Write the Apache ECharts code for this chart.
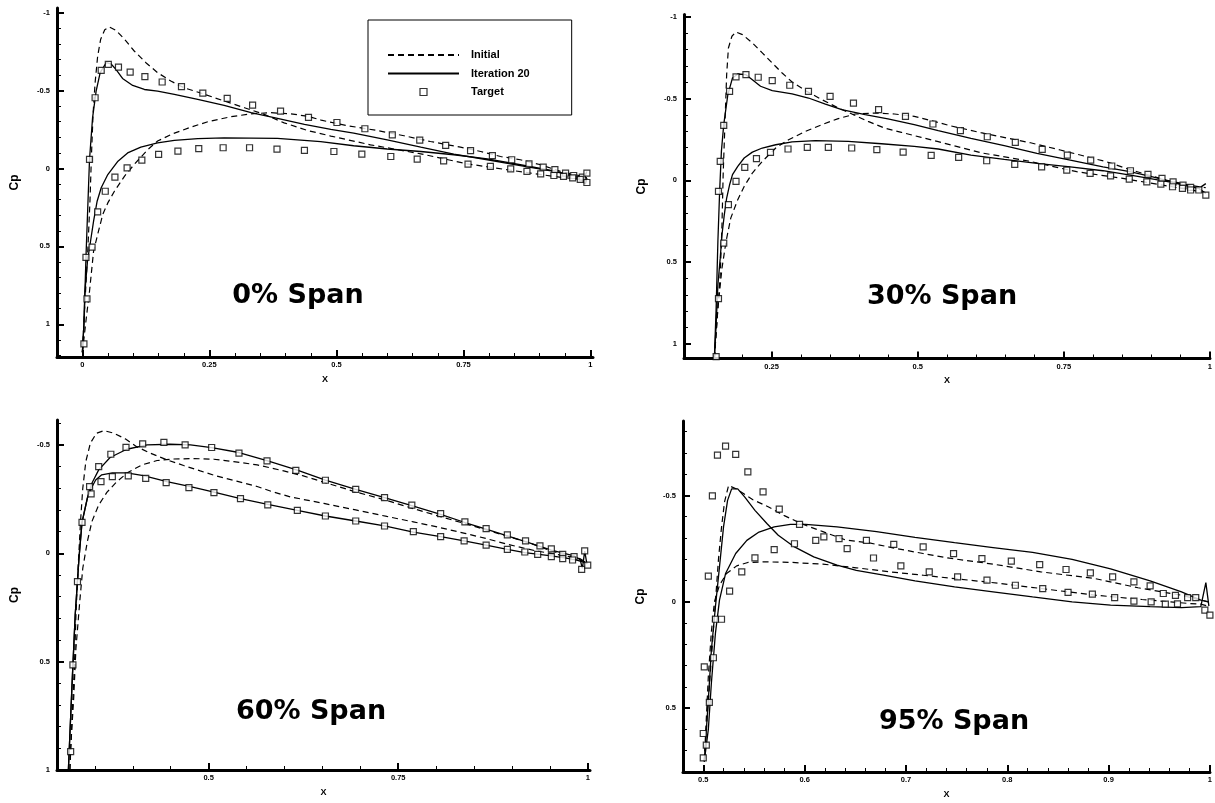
<!DOCTYPE html>
<html>
<head>
<meta charset="utf-8">
<title>Cp distributions</title>
<script src="https://cdn.jsdelivr.net/npm/echarts@6/dist/echarts.min.js"></script>
<style>
    html, body { margin: 0; padding: 0; background: #fff; }
    #cp-chart { width: 1215px; height: 803px; }
</style>
</head>
<body>
<div id="cp-chart"></div>
<script>
    // ---- 0% span ----
    var p1InitialUpper = [[0.0,1.18],[0.006,0.8],[0.011,0.5],[0.015,0.2],[0.018,-0.1],[0.021,-0.35],[0.025,-0.55],[0.03,-0.72],[0.036,-0.83],[0.044,-0.89],[0.053,-0.908],[0.066,-0.887],[0.083,-0.829],[0.102,-0.754],[0.125,-0.679],[0.148,-0.615],[0.174,-0.561],[0.2,-0.518],[0.237,-0.48],[0.279,-0.433],[0.319,-0.39],[0.358,-0.347],[0.397,-0.293],[0.443,-0.244],[0.489,-0.208],[0.567,-0.152],[0.666,-0.094],[0.757,-0.03],[0.836,0.008],[0.928,0.051],[0.98,0.07],[0.993,0.08]];
    var p1InitialLower = [[0.0,1.18],[0.008,0.95],[0.014,0.788],[0.022,0.531],[0.03,0.424],[0.04,0.296],[0.05,0.221],[0.063,0.146],[0.083,0.049],[0.102,-0.026],[0.129,-0.122],[0.148,-0.176],[0.178,-0.223],[0.214,-0.266],[0.247,-0.3],[0.292,-0.332],[0.332,-0.351],[0.371,-0.358],[0.41,-0.351],[0.445,-0.334],[0.47,-0.31],[0.521,-0.275],[0.58,-0.244],[0.633,-0.21],[0.685,-0.173],[0.744,-0.137],[0.784,-0.109],[0.823,-0.077],[0.862,-0.056],[0.902,-0.024],[0.941,0.019],[0.98,0.047],[0.993,0.06]];
    var p1IterUpper = [[0.0,1.18],[0.003,1.0],[0.005,0.788],[0.007,0.57],[0.01,0.3],[0.014,-0.058],[0.02,-0.325],[0.027,-0.497],[0.035,-0.615],[0.047,-0.679],[0.056,-0.672],[0.066,-0.636],[0.079,-0.578],[0.099,-0.533],[0.122,-0.507],[0.148,-0.497],[0.181,-0.475],[0.227,-0.443],[0.279,-0.405],[0.332,-0.358],[0.384,-0.322],[0.437,-0.283],[0.489,-0.251],[0.534,-0.227],[0.6,-0.184],[0.666,-0.137],[0.731,-0.092],[0.797,-0.056],[0.862,-0.019],[0.928,0.019],[0.974,0.051],[0.988,0.06],[0.993,0.02]];
    var p1IterLower = [[0.0,1.18],[0.003,1.002],[0.005,0.788],[0.01,0.595],[0.016,0.467],[0.022,0.338],[0.029,0.21],[0.037,0.124],[0.05,0.039],[0.07,-0.047],[0.089,-0.1],[0.115,-0.137],[0.148,-0.165],[0.181,-0.18],[0.227,-0.191],[0.279,-0.197],[0.384,-0.193],[0.469,-0.173],[0.534,-0.146],[0.6,-0.125],[0.666,-0.109],[0.731,-0.088],[0.797,-0.062],[0.862,-0.024],[0.928,0.015],[0.98,0.062],[0.99,0.1],[0.993,0.06]];
    var p1Target = [[0.003,1.126],[0.009,0.837],[0.007,0.57],[0.014,-0.058],[0.025,-0.454],[0.037,-0.63],[0.051,-0.668],[0.071,-0.651],[0.094,-0.619],[0.123,-0.589],[0.157,-0.555],[0.195,-0.525],[0.237,-0.484],[0.285,-0.45],[0.335,-0.407],[0.39,-0.368],[0.445,-0.328],[0.501,-0.295],[0.556,-0.255],[0.61,-0.216],[0.664,-0.182],[0.715,-0.148],[0.764,-0.114],[0.807,-0.082],[0.845,-0.056],[0.879,-0.03],[0.907,-0.009],[0.93,0.008],[0.951,0.03],[0.967,0.045],[0.984,0.055],[0.993,0.03],
        [0.019,0.505],[0.03,0.278],[0.045,0.146],[0.064,0.056],[0.088,-0.004],[0.117,-0.054],[0.15,-0.09],[0.188,-0.111],[0.229,-0.128],[0.277,-0.133],[0.329,-0.133],[0.383,-0.124],[0.437,-0.116],[0.495,-0.109],[0.55,-0.092],[0.607,-0.077],[0.659,-0.06],[0.711,-0.049],[0.759,-0.028],[0.803,-0.013],[0.843,0.002],[0.875,0.019],[0.902,0.034],[0.928,0.045],[0.947,0.051],[0.965,0.06],[0.98,0.07],[0.993,0.09]];
    var p1XTicks = [0, 0.25, 0.5, 0.75, 1];
    var p1YTicks = [-1, -0.5, 0, 0.5, 1];

    // ---- 30% span ----
    var p2InitialUpper = [[0.152,1.088],[0.162,0.578],[0.165,0.271],[0.167,-0.035],[0.17,-0.341],[0.173,-0.647],[0.176,-0.81],[0.182,-0.882],[0.189,-0.908],[0.2,-0.892],[0.217,-0.841],[0.234,-0.78],[0.251,-0.718],[0.268,-0.657],[0.285,-0.602],[0.308,-0.549],[0.336,-0.494],[0.364,-0.443],[0.39,-0.402],[0.415,-0.361],[0.443,-0.32],[0.472,-0.294],[0.506,-0.263],[0.535,-0.237],[0.608,-0.169],[0.687,-0.12],[0.772,-0.053],[0.851,-0.012],[0.919,0.029],[0.976,0.064],[0.993,0.075]];
    var p2InitialLower = [[0.152,1.088],[0.158,0.782],[0.165,0.537],[0.172,0.373],[0.18,0.231],[0.192,0.118],[0.203,0.037],[0.217,-0.045],[0.234,-0.116],[0.257,-0.198],[0.279,-0.249],[0.308,-0.3],[0.336,-0.341],[0.364,-0.378],[0.393,-0.406],[0.426,-0.412],[0.46,-0.406],[0.494,-0.392],[0.535,-0.354],[0.557,-0.333],[0.608,-0.292],[0.693,-0.23],[0.744,-0.186],[0.778,-0.155],[0.823,-0.114],[0.857,-0.073],[0.885,-0.043],[0.925,-0.002],[0.964,0.029],[0.993,0.045]];
    var p2IterUpper = [[0.152,1.088],[0.155,0.782],[0.158,0.373],[0.161,0.067],[0.164,-0.178],[0.168,-0.341],[0.175,-0.524],[0.183,-0.627],[0.192,-0.651],[0.206,-0.647],[0.217,-0.616],[0.231,-0.576],[0.251,-0.549],[0.285,-0.529],[0.313,-0.504],[0.342,-0.467],[0.37,-0.433],[0.41,-0.402],[0.449,-0.376],[0.494,-0.341],[0.535,-0.304],[0.591,-0.257],[0.648,-0.212],[0.704,-0.165],[0.761,-0.124],[0.817,-0.083],[0.863,-0.053],[0.902,-0.022],[0.942,0.015],[0.981,0.049],[0.993,0.02]];
    var p2IterLower = [[0.152,1.088],[0.155,0.884],[0.158,0.639],[0.162,0.476],[0.165,0.333],[0.169,0.21],[0.173,0.108],[0.178,0.027],[0.183,-0.035],[0.192,-0.086],[0.203,-0.137],[0.217,-0.173],[0.234,-0.198],[0.257,-0.218],[0.285,-0.235],[0.325,-0.243],[0.381,-0.239],[0.438,-0.224],[0.494,-0.208],[0.535,-0.192],[0.591,-0.155],[0.648,-0.128],[0.704,-0.104],[0.761,-0.083],[0.817,-0.059],[0.874,-0.026],[0.93,0.009],[0.981,0.049],[0.993,0.08]];
    var p2Target = [[0.155,1.078],[0.159,0.724],[0.159,0.067],[0.162,-0.116],[0.168,-0.337],[0.178,-0.545],[0.189,-0.633],[0.206,-0.647],[0.227,-0.631],[0.251,-0.61],[0.281,-0.582],[0.313,-0.545],[0.35,-0.514],[0.39,-0.473],[0.433,-0.433],[0.479,-0.392],[0.526,-0.345],[0.573,-0.304],[0.619,-0.267],[0.667,-0.233],[0.713,-0.19],[0.756,-0.155],[0.796,-0.124],[0.832,-0.088],[0.864,-0.059],[0.894,-0.037],[0.918,-0.012],[0.937,0.009],[0.954,0.029],[0.967,0.043],[0.981,0.059],
        [0.168,0.384],[0.176,0.149],[0.189,0.006],[0.204,-0.08],[0.224,-0.133],[0.248,-0.171],[0.278,-0.192],[0.311,-0.202],[0.347,-0.202],[0.387,-0.198],[0.43,-0.188],[0.475,-0.173],[0.523,-0.153],[0.57,-0.141],[0.618,-0.12],[0.666,-0.098],[0.712,-0.083],[0.755,-0.063],[0.795,-0.043],[0.83,-0.028],[0.862,-0.008],[0.892,0.009],[0.916,0.023],[0.936,0.039],[0.953,0.049],[0.967,0.059],[0.993,0.09]];
    var p2XTicks = [0.25, 0.5, 0.75, 1];
    var p2YTicks = [-1, -0.5, 0, 0.5, 1];

    // ---- 60% span ----
    var p3InitialUpper = [[0.317,1.0],[0.32,0.746],[0.323,0.515],[0.325,0.285],[0.328,0.054],[0.331,-0.146],[0.334,-0.3],[0.338,-0.423],[0.344,-0.508],[0.352,-0.554],[0.362,-0.566],[0.375,-0.554],[0.39,-0.528],[0.405,-0.492],[0.423,-0.462],[0.445,-0.431],[0.467,-0.405],[0.489,-0.38],[0.511,-0.356],[0.537,-0.333],[0.564,-0.308],[0.586,-0.282],[0.608,-0.26],[0.652,-0.23],[0.694,-0.2],[0.735,-0.17],[0.77,-0.145],[0.806,-0.118],[0.838,-0.092],[0.866,-0.068],[0.896,-0.04],[0.932,-0.011],[0.967,0.01],[0.99,0.025],[0.997,0.04]];
    var p3InitialLower = [[0.317,1.0],[0.318,0.9],[0.322,0.669],[0.325,0.438],[0.33,0.223],[0.334,0.069],[0.34,-0.054],[0.346,-0.146],[0.355,-0.223],[0.366,-0.282],[0.379,-0.331],[0.394,-0.374],[0.412,-0.408],[0.432,-0.428],[0.454,-0.435],[0.48,-0.437],[0.507,-0.434],[0.533,-0.423],[0.564,-0.408],[0.599,-0.38],[0.625,-0.357],[0.654,-0.326],[0.694,-0.283],[0.73,-0.249],[0.77,-0.206],[0.806,-0.169],[0.838,-0.137],[0.866,-0.108],[0.896,-0.077],[0.922,-0.049],[0.952,-0.011],[0.982,0.02],[0.997,0.04]];
    var p3IterUpper = [[0.315,1.0],[0.32,0.592],[0.324,0.285],[0.329,0.023],[0.333,-0.143],[0.34,-0.254],[0.346,-0.323],[0.355,-0.385],[0.37,-0.442],[0.392,-0.48],[0.419,-0.5],[0.449,-0.503],[0.476,-0.5],[0.504,-0.488],[0.54,-0.465],[0.578,-0.426],[0.616,-0.385],[0.654,-0.338],[0.694,-0.295],[0.732,-0.257],[0.77,-0.218],[0.806,-0.18],[0.838,-0.142],[0.866,-0.111],[0.894,-0.08],[0.922,-0.049],[0.952,-0.015],[0.982,0.012],[0.99,0.03],[0.993,0.07],[0.996,-0.01],[0.999,0.05]];
    var p3IterLower = [[0.315,1.0],[0.32,0.592],[0.324,0.285],[0.329,0.023],[0.333,-0.143],[0.34,-0.254],[0.344,-0.292],[0.351,-0.338],[0.359,-0.362],[0.373,-0.371],[0.392,-0.371],[0.414,-0.358],[0.445,-0.331],[0.476,-0.308],[0.507,-0.282],[0.542,-0.252],[0.578,-0.226],[0.617,-0.198],[0.654,-0.172],[0.694,-0.149],[0.732,-0.126],[0.77,-0.098],[0.806,-0.077],[0.837,-0.057],[0.866,-0.038],[0.894,-0.018],[0.917,-0.003],[0.952,0.012],[0.982,0.028],[0.999,0.045]];
    var p3Target = [[0.318,0.915],[0.321,0.515],[0.327,0.131],[0.333,-0.143],[0.343,-0.308],[0.355,-0.4],[0.371,-0.457],[0.391,-0.489],[0.413,-0.505],[0.441,-0.512],[0.469,-0.5],[0.504,-0.488],[0.54,-0.462],[0.577,-0.426],[0.615,-0.383],[0.654,-0.337],[0.694,-0.295],[0.732,-0.257],[0.768,-0.222],[0.806,-0.183],[0.838,-0.145],[0.866,-0.114],[0.894,-0.085],[0.918,-0.057],[0.937,-0.034],[0.952,-0.02],[0.967,0.005],[0.982,0.015],[0.996,-0.011],
        [0.345,-0.274],[0.358,-0.331],[0.373,-0.354],[0.394,-0.357],[0.417,-0.346],[0.444,-0.326],[0.474,-0.303],[0.507,-0.28],[0.542,-0.252],[0.578,-0.223],[0.617,-0.198],[0.654,-0.172],[0.694,-0.149],[0.732,-0.126],[0.77,-0.1],[0.806,-0.077],[0.837,-0.057],[0.866,-0.038],[0.894,-0.018],[0.917,-0.006],[0.934,0.005],[0.952,0.015],[0.967,0.025],[0.98,0.031],[0.992,0.074],[1.0,0.055]];
    var p3XTicks = [0.5, 0.75, 1];
    var p3YTicks = [-0.5, 0, 0.5, 1];

    // ---- 95% span ----
    var p4InitialUpper = [[0.501,0.75],[0.503,0.6],[0.506,0.4],[0.509,0.2],[0.512,0.0],[0.515,-0.2],[0.518,-0.35],[0.521,-0.47],[0.525,-0.547],[0.533,-0.53],[0.549,-0.48],[0.564,-0.447],[0.58,-0.405],[0.598,-0.365],[0.618,-0.33],[0.641,-0.29],[0.664,-0.277],[0.69,-0.251],[0.717,-0.227],[0.743,-0.205],[0.786,-0.177],[0.833,-0.141],[0.887,-0.109],[0.929,-0.066],[0.972,-0.031],[0.991,-0.008],[0.998,0.0]];
    var p4InitialLower = [[0.501,0.75],[0.503,0.55],[0.505,0.35],[0.508,0.141],[0.511,0.0],[0.516,-0.078],[0.523,-0.133],[0.533,-0.169],[0.544,-0.185],[0.562,-0.188],[0.588,-0.185],[0.618,-0.177],[0.651,-0.16],[0.684,-0.141],[0.717,-0.125],[0.748,-0.109],[0.794,-0.086],[0.841,-0.058],[0.887,-0.031],[0.933,-0.011],[0.98,0.008],[0.991,0.011],[0.998,0.02]];
    var p4IterUpper = [[0.501,0.75],[0.505,0.461],[0.508,0.227],[0.512,0.023],[0.516,-0.164],[0.52,-0.352],[0.524,-0.477],[0.528,-0.531],[0.534,-0.531],[0.541,-0.492],[0.551,-0.43],[0.563,-0.367],[0.574,-0.313],[0.59,-0.258],[0.609,-0.211],[0.632,-0.172],[0.651,-0.148],[0.678,-0.125],[0.709,-0.098],[0.748,-0.07],[0.786,-0.047],[0.825,-0.023],[0.864,0.0],[0.902,0.016],[0.941,0.023],[0.972,0.027],[0.991,0.023],[0.996,-0.09],[0.999,0.02]];
    var p4IterLower = [[0.501,0.75],[0.505,0.6],[0.508,0.383],[0.512,0.148],[0.516,-0.008],[0.522,-0.133],[0.532,-0.227],[0.543,-0.289],[0.555,-0.328],[0.57,-0.352],[0.586,-0.364],[0.601,-0.364],[0.632,-0.352],[0.671,-0.33],[0.709,-0.303],[0.748,-0.278],[0.786,-0.255],[0.825,-0.232],[0.864,-0.2],[0.902,-0.155],[0.941,-0.098],[0.972,-0.047],[0.991,-0.008],[0.999,0.0]];
    var p4Target = [[0.5,0.734],[0.503,0.674],[0.5,0.619],[0.506,0.473],[0.501,0.306],[0.51,0.263],[0.512,0.082],[0.518,0.082],[0.505,-0.121],[0.509,-0.498],[0.514,-0.69],[0.522,-0.732],[0.532,-0.693],[0.544,-0.611],[0.559,-0.517],[0.575,-0.436],[0.595,-0.364],[0.526,-0.05],[0.538,-0.141],[0.551,-0.207],[0.57,-0.245],[0.59,-0.273],[0.611,-0.289],[0.619,-0.305],[0.634,-0.297],[0.642,-0.25],[0.661,-0.289],[0.668,-0.206],[0.688,-0.27],[0.695,-0.169],[0.717,-0.258],[0.723,-0.141],[0.747,-0.227],[0.751,-0.117],[0.775,-0.203],[0.78,-0.102],[0.804,-0.191],[0.808,-0.078],[0.832,-0.175],[0.835,-0.062],[0.858,-0.152],[0.86,-0.044],[0.882,-0.136],[0.884,-0.036],[0.904,-0.117],[0.906,-0.02],[0.925,-0.094],[0.925,-0.003],[0.941,-0.075],[0.942,0.0],[0.954,-0.039],[0.956,0.011],[0.966,-0.03],[0.968,0.01],[0.978,-0.02],[0.986,-0.02],[0.995,0.039],[1.0,0.063]];
    var p4XTicks = [0.5, 0.6, 0.7, 0.8, 0.9, 1];
    var p4YTicks = [-0.5, 0, 0.5];

    var seriesNames = ['Initial', 'Iteration 20', 'Target'];
    var spanLabels = ['0% Span', '30% Span', '60% Span', '95% Span'];

    var panels = [
        { grid: {left: 57, top: 8, width: 536, height: 349}, x: [-0.05, 1.005], y: [-1.03, 1.21], xStep: 0.05, yStep: 0.1,
          xTicks: p1XTicks, yTicks: p1YTicks, initial: [p1InitialUpper, p1InitialLower], iter: [p1IterUpper, p1IterLower], target: p1Target, label: [298, 296] },
        { grid: {left: 684, top: 14.5, width: 530, height: 344}, x: [0.1, 1.0], y: [-1.015, 1.09], xStep: 0.05, yStep: 0.1,
          xTicks: p2XTicks, yTicks: p2YTicks, initial: [p2InitialUpper, p2InitialLower], iter: [p2IterUpper, p2IterLower], target: p2Target, label: [942, 297] },
        { grid: {left: 57, top: 420, width: 533, height: 350}, x: [0.3, 1.003], y: [-0.615, 1.0], xStep: 0.05, yStep: 0.1,
          xTicks: p3XTicks, yTicks: p3YTicks, initial: [p3InitialUpper, p3InitialLower], iter: [p3IterUpper, p3IterLower], target: p3Target, label: [311, 712] },
        { grid: {left: 683, top: 421, width: 527, height: 351}, x: [0.48, 1.0], y: [-0.85, 0.8], xStep: 0.02, yStep: 0.1,
          xTicks: p4XTicks, yTicks: p4YTicks, initial: [p4InitialUpper, p4InitialLower], iter: [p4IterUpper, p4IterLower], target: p4Target, label: [954, 722] }
    ];

    var tickFont = 'Liberation Sans';
    var bigFont = 'DejaVu Sans';

    function minorTicks(min, max, step) {
        var out = [];
        var start = Math.ceil(min / step - 1e-9);
        for (var k = start; k * step <= max + 1e-9; k++) {
            out.push(Math.round(k * step * 1000) / 1000);
        }
        return out;
    }

    var grids = [], xAxes = [], yAxes = [], series = [], graphics = [];

    panels.forEach(function (p, i) {
        grids.push(p.grid);

        // main axes: thick line, major ticks inside, labels
        xAxes.push({
            gridIndex: i, type: 'value', position: 'bottom', min: p.x[0], max: p.x[1],
            name: 'X', nameLocation: 'middle', nameGap: 18,
            nameTextStyle: {color: '#000', fontWeight: 'bold', fontSize: 9, fontFamily: tickFont},
            axisLine: {onZero: false, lineStyle: {color: '#000', width: 3}},
            axisTick: {inside: true, length: 7, customValues: p.xTicks, lineStyle: {color: '#000', width: 2}},
            axisLabel: {customValues: p.xTicks, margin: 4, color: '#000', fontSize: 7.5, fontWeight: 'bold', fontFamily: tickFont},
            splitLine: {show: false}
        });
        // overlay axis only for the small ticks
        xAxes.push({
            gridIndex: i, type: 'value', position: 'bottom', min: p.x[0], max: p.x[1],
            axisLine: {show: false, onZero: false},
            axisTick: {inside: true, length: 4, customValues: minorTicks(p.x[0], p.x[1], p.xStep), lineStyle: {color: '#000', width: 1}},
            axisLabel: {show: false},
            splitLine: {show: false}
        });
        yAxes.push({
            gridIndex: i, type: 'value', position: 'left', inverse: true, min: p.y[0], max: p.y[1],
            name: 'Cp', nameLocation: 'middle', nameGap: 36, nameRotate: 90,
            nameTextStyle: {color: '#000', fontWeight: 'bold', fontSize: 12, fontFamily: tickFont},
            axisLine: {onZero: false, lineStyle: {color: '#000', width: 3}},
            axisTick: {inside: true, length: 7, customValues: p.yTicks, lineStyle: {color: '#000', width: 2}},
            axisLabel: {customValues: p.yTicks, margin: 7, color: '#000', fontSize: 7.5, fontWeight: 'bold', fontFamily: tickFont},
            splitLine: {show: false}
        });
        yAxes.push({
            gridIndex: i, type: 'value', position: 'left', inverse: true, min: p.y[0], max: p.y[1],
            axisLine: {show: false, onZero: false},
            axisTick: {inside: true, length: 4, customValues: minorTicks(p.y[0], p.y[1], p.yStep), lineStyle: {color: '#000', width: 1}},
            axisLabel: {show: false},
            splitLine: {show: false}
        });

        p.initial.forEach(function (curve) {
            series.push({
                type: 'line', name: seriesNames[0], xAxisIndex: 2 * i, yAxisIndex: 2 * i, data: curve,
                symbol: 'none', lineStyle: {color: '#000', width: 1.2, type: [6, 4]}, itemStyle: {color: '#000'}, z: 2
            });
        });
        p.iter.forEach(function (curve) {
            series.push({
                type: 'line', name: seriesNames[1], xAxisIndex: 2 * i, yAxisIndex: 2 * i, data: curve,
                symbol: 'none', lineStyle: {color: '#000', width: 1.3, type: 'solid'}, itemStyle: {color: '#000'}, z: 2
            });
        });
        series.push({
            type: 'scatter', name: seriesNames[2], xAxisIndex: 2 * i, yAxisIndex: 2 * i, data: p.target,
            symbol: 'rect', symbolSize: 6,
            itemStyle: {color: '#fff', borderColor: '#000', borderWidth: 1.2}, z: 3
        });

        graphics.push({
            type: 'text', x: p.label[0], y: p.label[1],
            style: {text: spanLabels[i], fill: '#000', font: 'bold 27px "' + bigFont + '"', align: 'center', verticalAlign: 'middle'}
        });
    });

    var chart = echarts.init(document.getElementById('cp-chart'));
    chart.setOption({
        animation: false,
        backgroundColor: '#fff',
        grid: grids,
        xAxis: xAxes,
        yAxis: yAxes,
        legend: {
            data: [
                {name: seriesNames[0], itemStyle: {opacity: 0}},
                {name: seriesNames[1], itemStyle: {opacity: 0}},
                {name: seriesNames[2], icon: 'path://M0,0L10,0L10,10L0,10Z', itemStyle: {color: '#fff', borderColor: '#000', borderWidth: 1.2}}
            ],
            orient: 'vertical', left: 368, top: 20, symbolKeepAspect: true,
            padding: [29, 42, 17, 19], itemGap: 6.5, itemWidth: 71, itemHeight: 7,
            borderColor: '#000', borderWidth: 1, selectedMode: false,
            textStyle: {color: '#000', fontWeight: 'bold', fontSize: 11, fontFamily: tickFont, padding: [0, 0, 0, 7], lineHeight: 12}
        },
        graphic: graphics,
        series: series
    });
</script>
</body>
</html>
